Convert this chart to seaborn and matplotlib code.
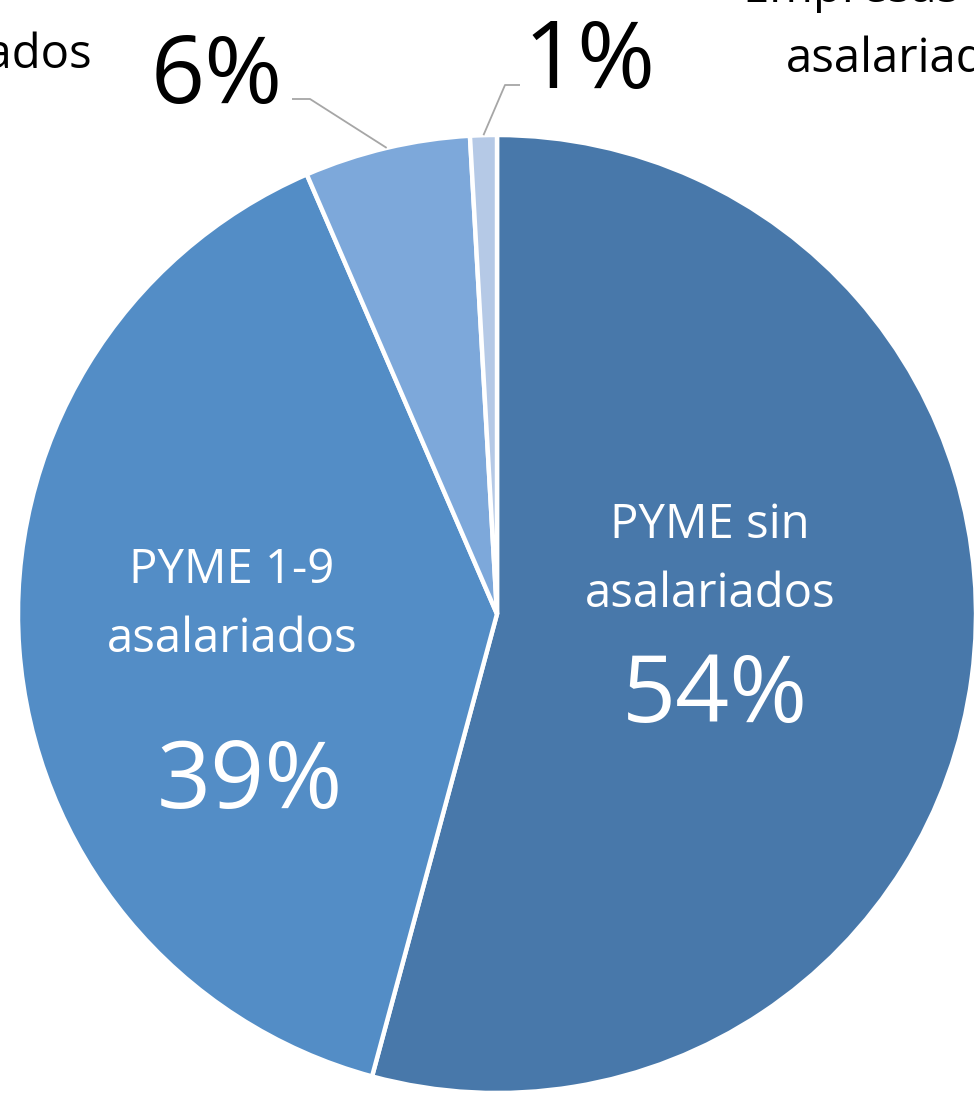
import matplotlib
matplotlib.use("Agg")
import matplotlib.pyplot as plt
import seaborn as sns
import numpy as np

# ---- data ----
categories = ["PYME sin", "PYME 1-9", "PYME 10-249", "Empresas +250"]
category_line2 = ["asalariados", "asalariados", "asalariados", "asalariados"]
shares = [54.2, 39.3, 5.6, 0.9]
pct_labels = ["54%", "39%", "6%", "1%"]
colors = ["#4878AA", "#538DC6", "#7DA8DA", "#B5C9E6"]

sns.set_theme(style="white")
plt.rcParams['font.family'] = ['Open Sans', 'DejaVu Sans']

W, H = 974, 1102
fig = plt.figure(figsize=(W / 100, H / 100), dpi=100)
ax = fig.add_axes([0, 0, 1, 1])

def Y(y_img):
    return H - y_img

cx, cy, R = 497, Y(614), 479
wedges, _ = ax.pie(shares, colors=colors, startangle=90, counterclock=False,
                   center=(cx, cy), radius=R,
                   wedgeprops=dict(edgecolor="white", linewidth=3.2))
ax.set_xlim(0, W)
ax.set_ylim(0, H)
ax.set_aspect("equal")
ax.axis("off")

pct_size = 68
cat_size = 34
out_cat_size = 34

# inner labels
ax.text(710, Y(538), categories[0], ha="center", va="baseline", color="white", fontsize=cat_size)
ax.text(710, Y(607), category_line2[0], ha="center", va="baseline", color="white", fontsize=cat_size)
ax.text(715, Y(722), pct_labels[0], ha="center", va="baseline", color="white", fontsize=pct_size)

ax.text(232, Y(583), categories[1], ha="center", va="baseline", color="white", fontsize=cat_size)
ax.text(232, Y(652), category_line2[1], ha="center", va="baseline", color="white", fontsize=cat_size)
ax.text(250, Y(808), pct_labels[1], ha="center", va="baseline", color="white", fontsize=pct_size)

# outer labels
ax.text(217, Y(103), pct_labels[2], ha="center", va="baseline", color="black", fontsize=pct_size)
ax.text(590, Y(88), pct_labels[3], ha="center", va="baseline", color="black", fontsize=pct_size)

fig.canvas.draw()
renderer = fig.canvas.get_renderer()

t_left = ax.text(92, Y(68), category_line2[2], ha="right", va="baseline", color="black", fontsize=out_cat_size)
wl = t_left.get_window_extent(renderer).width
ax.text(92 - wl / 2, Y(-2), categories[2], ha="center", va="baseline", color="black", fontsize=out_cat_size)

t_right = ax.text(786, Y(72), category_line2[3], ha="left", va="baseline", color="black", fontsize=out_cat_size)
wr = t_right.get_window_extent(renderer).width
ax.text(786 + wr / 2, Y(2), categories[3], ha="center", va="baseline", color="black", fontsize=out_cat_size)

# leader lines from the small wedges to their outside labels
elbows = {2: [(310, Y(99)), (292, Y(99))], 3: [(505, Y(85)), (520, Y(85))]}
for i, pts in elbows.items():
    w = wedges[i]
    mid = np.deg2rad((w.theta1 + w.theta2) / 2)
    px, py = cx + R * np.cos(mid), cy + R * np.sin(mid)
    xs = [px] + [p[0] for p in pts]
    ys = [py] + [p[1] for p in pts]
    ax.plot(xs, ys, color="#A6A6A6", linewidth=1.3, solid_capstyle="butt")

fig.savefig("out.png", dpi=100, facecolor="white")
